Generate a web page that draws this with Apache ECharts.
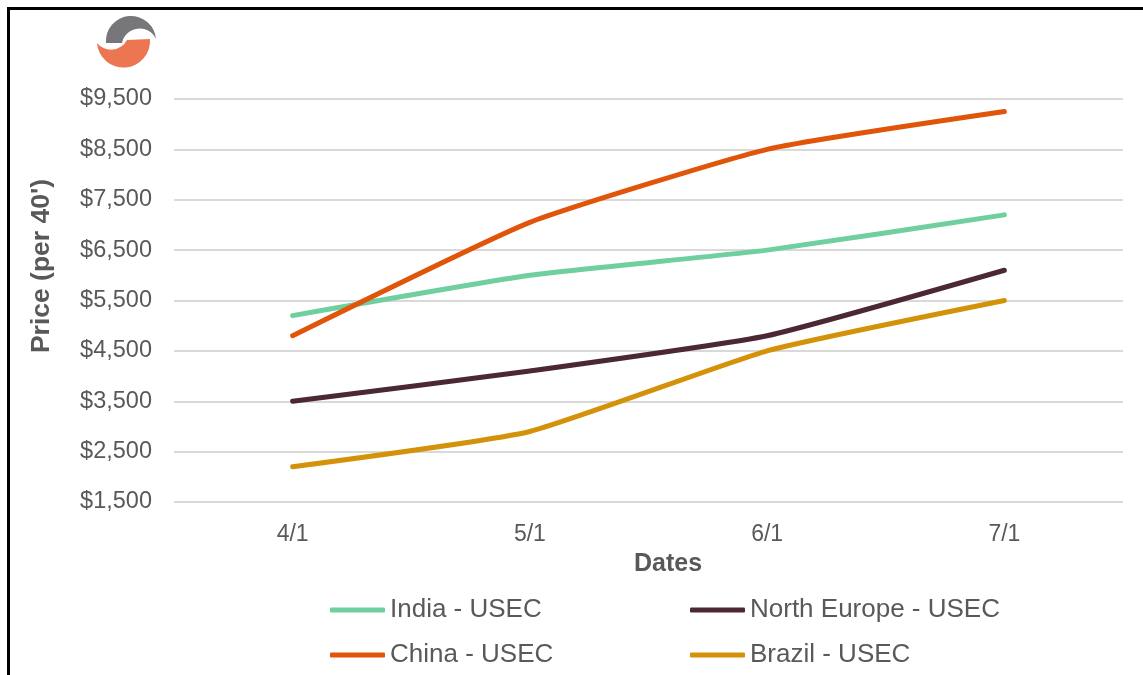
<!DOCTYPE html>
<html>
<head>
<meta charset="utf-8">
<style>
  html, body { margin: 0; padding: 0; background: #fff; }
  #chart { width: 1143px; height: 675px; }
</style>
<script src="https://cdn.jsdelivr.net/npm/echarts@6/dist/echarts.min.js"></script>
</head>
<body>
<div id="chart"></div>
<script>
// data
var dates = ['4/1', '5/1', '6/1', '7/1'];
var india = [5200, 6000, 6500, 7200];
var china = [4800, 7050, 8500, 9250];
var northEurope = [3500, 4100, 4800, 6100];
var brazil = [2200, 2900, 4500, 5500];

var FONT = '"Liberation Sans", Arial, sans-serif';
var TXT = '#595959';

// little logo, drawn as an inline svg (page coords shifted by -90,-10)
var logoSvg = '<svg xmlns="http://www.w3.org/2000/svg" width="75" height="60" viewBox="90 10 75 60">' +
  '<path d="M106 43 A25 25 0 0 1 156 39 A18 18 0 0 0 122 43 Z" fill="#77767B"/>' +
  '<path d="M150 39 A25 25 0 0 1 97 43 A18 18 0 0 0 127 40 Z" fill="#EB7651"/>' +
  '</svg>';
var logoUrl = 'data:image/svg+xml;charset=utf-8,' + encodeURIComponent(logoSvg);

var chart = echarts.init(document.getElementById('chart'));

function line(name, data, color) {
  return {
    name: name,
    type: 'line',
    data: data,
    smooth: 0.15,
    symbol: 'none',
    lineStyle: { width: 5, color: color, cap: 'round', join: 'round' },
    itemStyle: { color: color },
    emphasis: { disabled: true }
  };
}

// one legend per entry so the two columns line up like the original
function legendItem(left, top, name) {
  return {
    left: left,
    top: top,
    padding: 0,
    itemWidth: 55,
    itemHeight: 5,
    icon: 'roundRect',
    textStyle: { fontFamily: FONT, fontSize: 26, color: TXT, lineHeight: 30 },
    data: [name]
  };
}

var options = {
  animation: false,
  backgroundColor: '#fff',
  grid: { left: 174, right: 20, top: 99, bottom: 173, containLabel: false },
  xAxis: {
    type: 'category',
    data: dates,
    boundaryGap: true,
    axisLine: { show: false },
    axisTick: { show: false },
    axisLabel: { fontFamily: FONT, fontSize: 23, color: TXT, margin: 21 }
  },
  yAxis: {
    type: 'value',
    min: 1500,
    max: 9500,
    interval: 1000,
    axisLine: { show: false },
    axisTick: { show: false },
    splitLine: { lineStyle: { color: '#D9D9D9', width: 2 } },
    axisLabel: {
      fontFamily: FONT, fontSize: 23.5, color: TXT, margin: 22,
      formatter: function (v) { return '$' + v.toLocaleString('en-US'); }
    }
  },
  legend: [
    legendItem(330, 595, 'India - USEC'),
    legendItem(330, 640, 'China - USEC'),
    legendItem(690, 595, 'North Europe - USEC'),
    legendItem(690, 640, 'Brazil - USEC')
  ],
  series: [
    line('India - USEC', india, '#70CF9E'),
    line('North Europe - USEC', northEurope, '#4B2834'),
    line('China - USEC', china, '#E0550A'),
    line('Brazil - USEC', brazil, '#D4920A')
  ],
  graphic: [
    {
      type: 'rect',
      shape: { x: 8.5, y: 8.5, width: 1400, height: 900 },
      style: { fill: 'none', stroke: '#000', lineWidth: 3 },
      silent: true
    },
    {
      type: 'image',
      style: { image: logoUrl, x: 90, y: 10, width: 75, height: 60 },
      silent: true
    },
    {
      type: 'text',
      x: 668, y: 564,
      style: { text: 'Dates', fontFamily: FONT, fontSize: 25, fontWeight: 'bold', fill: TXT, align: 'center', verticalAlign: 'middle' },
      silent: true
    },
    {
      type: 'text',
      x: 42, y: 266,
      rotation: Math.PI / 2,
      style: { text: "Price (per 40')", fontFamily: FONT, fontSize: 26.5, fontWeight: 'bold', fill: TXT, align: 'center', verticalAlign: 'middle' },
      silent: true
    }
  ]
};

chart.setOption(options);
window.addEventListener('resize', chart.resize);
</script>
</body>
</html>
